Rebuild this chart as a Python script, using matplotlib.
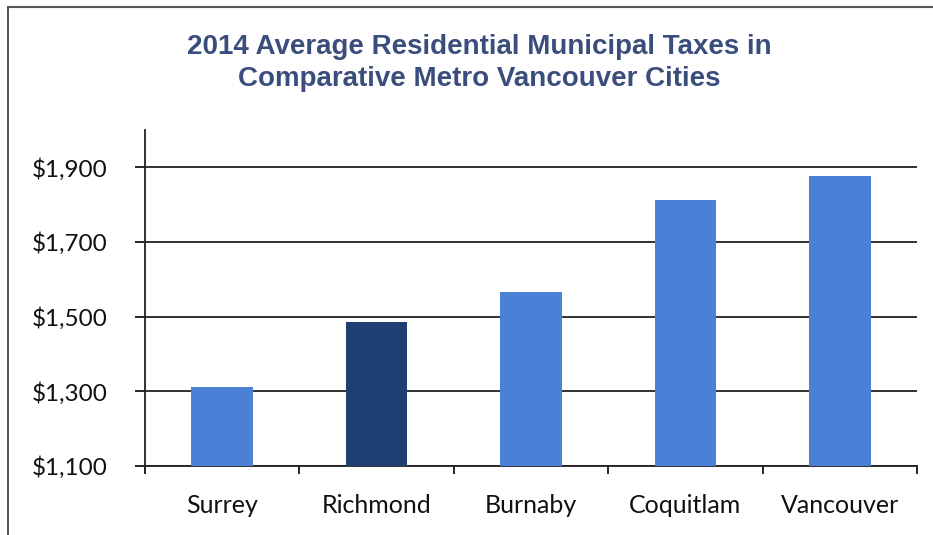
import numpy as np
import matplotlib as mpl
mpl.use("Agg")
import matplotlib.pyplot as plt
from matplotlib.lines import Line2D

cities = ['Surrey', 'Richmond', 'Burnaby', 'Coquitlam', 'Vancouver']
taxes = [1311, 1485, 1566, 1812, 1876]
bar_colors = ['#4a80d6', '#1f3e72', '#4a80d6', '#4a80d6', '#4a80d6']
y_ticks = [1100, 1300, 1500, 1700, 1900]
y_labels = ['$1,100', '$1,300', '$1,500', '$1,700', '$1,900']
title = '2014 Average Residential Municipal Taxes in\nComparative Metro Vancouver Cities'

plt.rcParams['font.family'] = ['Lato', 'DejaVu Sans']

fig = plt.figure(figsize=(9.33, 5.35), dpi=100)
ax = fig.add_axes([145 / 933, 69 / 535, 772 / 933, 336 / 535])

x = np.arange(len(cities))
ax.bar(x, taxes, width=0.4, color=bar_colors, zorder=3)

ax.set_xlim(-0.5, len(cities) - 0.5)
ax.set_ylim(1100, 2000)

ax.set_yticks(y_ticks)
ax.set_yticklabels(y_labels, fontsize=17.5, color='#111111')
ax.tick_params(axis='y', direction='out', length=7, width=1.2, pad=20)

ax.set_xticks(x)
ax.set_xticklabels(cities, fontsize=18, color='#111111')
ax.set_xticks(np.arange(-0.5, len(cities)), minor=True)
ax.tick_params(axis='x', which='major', length=0, pad=20.5)
ax.tick_params(axis='x', which='minor', direction='out', length=6, width=1.2)

ax.yaxis.grid(True, color='#222222', linewidth=1.3, zorder=0)
for s in ['top', 'right']:
    ax.spines[s].set_visible(False)
for s in ['left', 'bottom']:
    ax.spines[s].set_linewidth(1.3)
    ax.spines[s].set_color('#222222')

fig.text(0.514, 0.882, title, ha='center', va='center', fontsize=20,
         fontweight='bold', color='#3a4d7c', family='Liberation Sans',
         linespacing=1.3)

# outer chart border (left and top edges visible in the scan)
fig.add_artist(Line2D([8 / 933, 8 / 933], [0, 1 - 7 / 535], color='#333333', lw=1.2))
fig.add_artist(Line2D([8 / 933, 1], [1 - 7 / 535, 1 - 7 / 535], color='#555555', lw=1.5))

fig.savefig('out.png', dpi=100)
